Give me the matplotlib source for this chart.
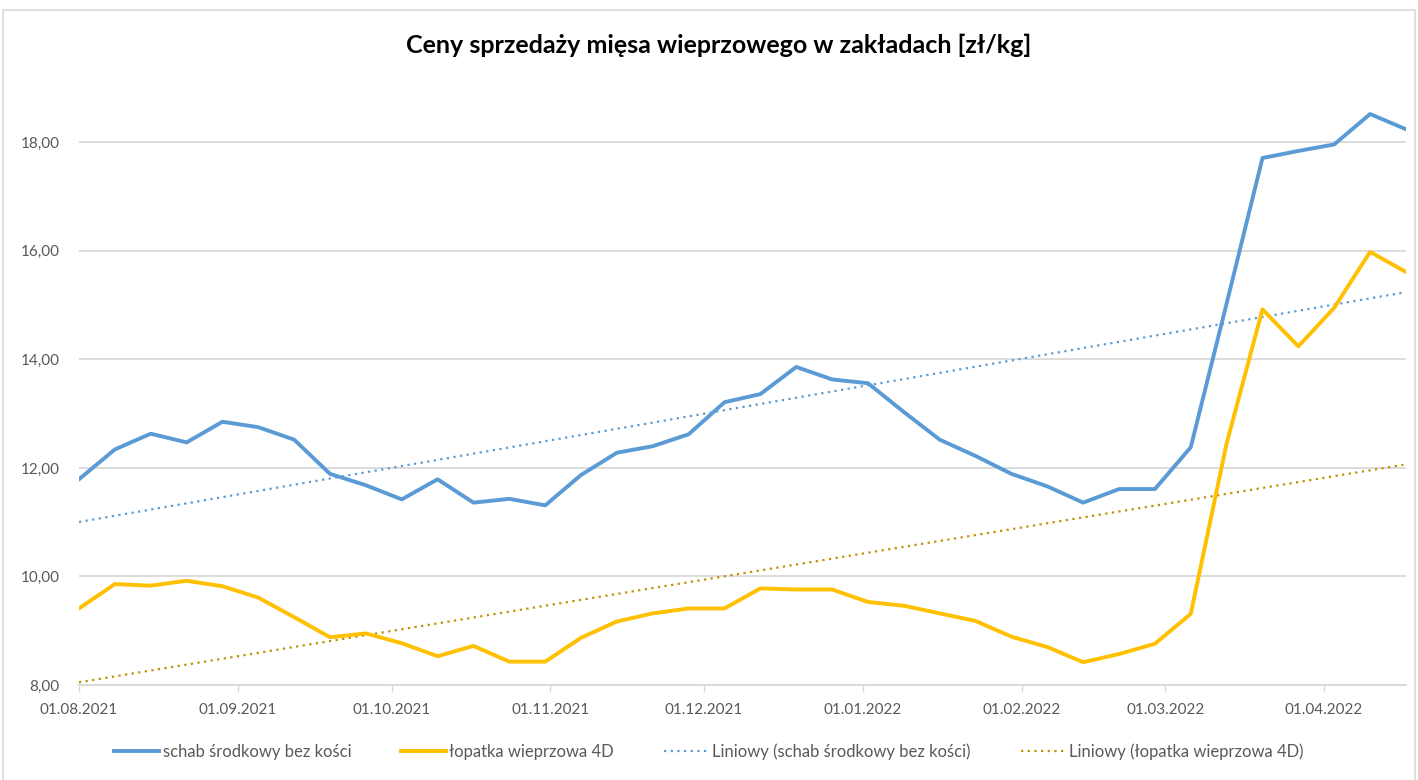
import numpy as np
import matplotlib
matplotlib.use('Agg')
import matplotlib.pyplot as plt
import matplotlib.dates as mdates
from matplotlib.ticker import FuncFormatter, MultipleLocator
from matplotlib.patches import Rectangle

plt.rcParams['font.family'] = ['Lato', 'DejaVu Sans']

# tygodniowe notowania od 01.08.2021
dates = np.arange(np.datetime64('2021-08-01'), np.datetime64('2022-04-18'), np.timedelta64(7, 'D'))

schab = [11.79, 12.34, 12.63, 12.47, 12.85, 12.75, 12.52, 11.89, 11.68, 11.42,
         11.79, 11.36, 11.43, 11.31, 11.87, 12.28, 12.40, 12.62, 13.21, 13.36,
         13.86, 13.63, 13.56, 13.03, 12.52, 12.22, 11.89, 11.66, 11.36, 11.61,
         11.61, 12.38, 15.03, 17.71, 17.84, 17.96, 18.52, 18.24]

lopatka = [9.41, 9.86, 9.83, 9.92, 9.82, 9.61, 9.25, 8.88, 8.95, 8.77,
           8.53, 8.72, 8.43, 8.43, 8.87, 9.17, 9.32, 9.41, 9.41, 9.78,
           9.76, 9.76, 9.53, 9.46, 9.32, 9.18, 8.89, 8.70, 8.42, 8.57,
           8.76, 9.31, 12.45, 14.92, 14.24, 14.95, 15.98, 15.61]

names = ['schab środkowy bez kości', 'łopatka wieprzowa 4D']
title = 'Ceny sprzedaży mięsa wieprzowego w zakładach [zł/kg]'

blue = '#5B9BD5'
gold = '#FFC000'
dark_gold = '#BF9000'
grid_c = '#D9D9D9'
text_c = '#595959'

fig = plt.figure(figsize=(14.18, 7.8), dpi=100)
ax = fig.add_axes([0.0557, 0.1218, 0.9358, 0.7654])

x = dates.astype('datetime64[D]').astype(object)
xn = mdates.date2num(x)

ax.plot(x, schab, color=blue, lw=2.8, solid_joinstyle='round', label=names[0], zorder=3)
ax.plot(x, lopatka, color=gold, lw=2.8, solid_joinstyle='round', label=names[1], zorder=3)

# linie trendu (liniowe)
for vals, c, n in [(schab, blue, names[0]), (lopatka, dark_gold, names[1])]:
    a, b = np.polyfit(xn, vals, 1)
    ax.plot(x, a * xn + b, color=c, lw=1.6, ls=(0, (1, 2)), label='Liniowy (' + n + ')', zorder=2)

ax.set_ylim(8, 19)
ax.set_xlim(xn[0], xn[-1])
ax.yaxis.set_major_locator(MultipleLocator(2))
ax.yaxis.set_major_formatter(FuncFormatter(lambda v, p: f'{v:.2f}'.replace('.', ',')))
ax.xaxis.set_major_locator(mdates.MonthLocator())
ax.xaxis.set_major_formatter(mdates.DateFormatter('%d.%m.%Y'))

ax.grid(axis='y', color=grid_c, lw=1.3)
ax.set_axisbelow(True)
for s in ['top', 'right', 'left']:
    ax.spines[s].set_visible(False)
ax.spines['bottom'].set_color(grid_c)
ax.spines['bottom'].set_linewidth(1.3)
ax.tick_params(axis='y', length=0, pad=14, labelsize=11, labelcolor=text_c)
ax.tick_params(axis='x', length=5, width=1, color=grid_c, pad=8, labelsize=11, labelcolor=text_c)

fig.text(0.507, 0.942, title, ha='center', va='center', fontsize=18, fontweight='bold', color='black')

fig.legend(loc='center', bbox_to_anchor=(0.5, 0.036), ncol=4, frameon=False,
           fontsize=12, handlelength=2.7, handletextpad=0.2, columnspacing=3.0, labelcolor=text_c)

fig.patches.append(Rectangle((0.002, -0.01), 0.996, 0.997, transform=fig.transFigure,
                             fill=False, edgecolor=grid_c, lw=1.2))

fig.savefig('out.png', dpi=100)
